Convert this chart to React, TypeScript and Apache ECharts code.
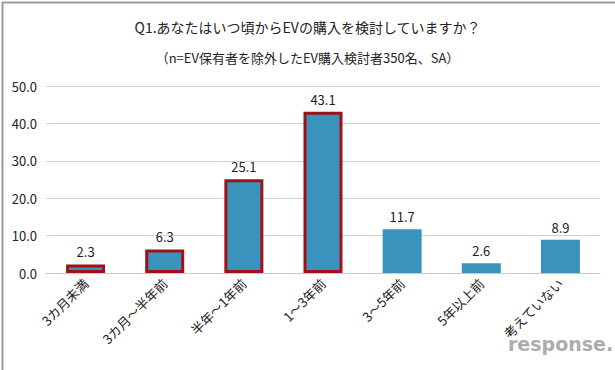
import React, { useEffect, useRef } from "react";
import * as echarts from "echarts";

const titleText = "Q1.あなたはいつ頃からEVの購入を検討していますか？";
const subtitleText = "（n=EV保有者を除外したEV購入検討者350名、SA）";
const categories = ["3カ月未満", "3カ月～半年前", "半年～1年前", "1～3年前", "3～5年前", "5年以上前", "考えていない"];
const values = [2.3, 6.3, 25.1, 43.1, 11.7, 2.6, 8.9];
const highlighted = [true, true, true, true, false, false, false];

const FONT = "'Noto Sans CJK JP', 'Noto Sans', sans-serif";

export default function App() {
  const ref = useRef<HTMLDivElement>(null);
  useEffect(() => {
    if (!ref.current) return;
    const chart = echarts.init(ref.current, null, { renderer: "svg" });
    chart.setOption({
      animation: false,
      backgroundColor: "#ffffff",
      textStyle: { fontFamily: FONT },
      title: [
        {
          text: titleText,
          left: "center",
          top: 15,
          textStyle: { fontSize: 14, fontWeight: "normal", color: "#222", fontFamily: FONT },
        },
        {
          text: subtitleText,
          left: "center",
          top: 46,
          textStyle: { fontSize: 13, fontWeight: "normal", color: "#222", fontFamily: FONT },
        },
      ],
      grid: { left: 46, right: 15, top: 86, bottom: 97 },
      xAxis: {
        type: "category",
        data: categories,
        axisTick: { show: false },
        axisLine: { lineStyle: { color: "#c8c8c8" } },
        axisLabel: { rotate: 45, fontSize: 13, color: "#222", margin: 8, interval: 0, fontFamily: FONT },
      },
      yAxis: {
        type: "value",
        min: 0,
        max: 50,
        interval: 10,
        axisLine: { show: false },
        axisTick: { show: false },
        splitLine: { lineStyle: { color: "#d0d0d0" } },
        axisLabel: {
          fontSize: 13,
          color: "#222",
          margin: 9,
          fontFamily: FONT,
          formatter: (v: number) => v.toFixed(1),
        },
      },
      series: [
        {
          type: "bar",
          barWidth: 39,
          data: values.map((v, i) => ({
            value: v,
            itemStyle: highlighted[i]
              ? { color: "#3a93bd", borderColor: "#a0121a", borderWidth: 3 }
              : { color: "#3a93bd" },
          })),
          label: {
            show: true,
            position: "top",
            distance: 6,
            fontSize: 13,
            color: "#222",
            fontFamily: FONT,
            formatter: (p: any) => Number(p.value).toFixed(1),
          },
        },
      ],
      graphic: [
        {
          type: "rect",
          left: 0,
          top: 0,
          shape: { width: 614, height: 369 },
          style: { fill: "none", stroke: "#999", lineWidth: 2 },
          silent: true,
        },
        {
          type: "text",
          left: 508,
          top: 334,
          style: {
            text: "response.",
            fill: "rgba(150,150,150,0.8)",
            font: "bold 19px 'DejaVu Sans', sans-serif",
          },
          silent: true,
        },
      ],
    });
    return () => chart.dispose();
  }, []);
  return (
    <div
      ref={ref}
      style={{ position: "absolute", left: 0, top: 0, width: 615, height: 370 }}
    />
  );
}
